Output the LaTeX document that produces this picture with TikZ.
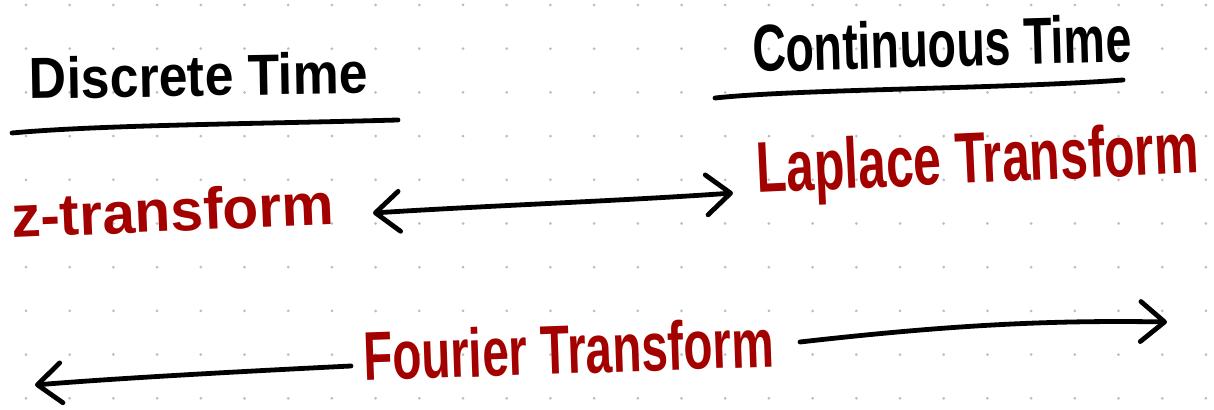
\documentclass[tikz,border=0pt]{standalone}
\usepackage{fontspec}
\setmainfont{Liberation Sans}
\usetikzlibrary{arrows.meta}
\definecolor{inkred}{HTML}{A30000}
\definecolor{dotgray}{HTML}{BDBDBD}
\newcommand{\fitto}[3]{\resizebox{#1}{#2}{\bfseries #3}}
\begin{document}
\begin{tikzpicture}[x=0.5pt,y=-0.5pt,
  >={Straight Barb[length=12pt,width=20pt,line cap=round,line join=round]},
  ink/.style={line width=2.4pt, line cap=round, line join=round, draw=black},
  head/.style={inner sep=0pt, outer sep=0pt, text=black, anchor=base west},
  redtext/.style={inner sep=0pt, outer sep=0pt, text=inkred, anchor=base west}]
\useasboundingbox[fill=white] (0,0) rectangle (1214,410);
% dotted grid
\foreach \i in {0,...,27}{
  \foreach \j in {0,...,9}{
    \fill[dotgray] ({26+43.7*\i},{5+43.7*\j}) circle (0.75pt);
  }
}
% headings
\node[head, rotate=1] (dt) at (30,99) {\fitto{169pt}{21pt}{Discrete Time}};
\node[head, rotate=1.6] (ct) at (753,72) {\fitto{189.5pt}{24pt}{Continuous Time}};
% underlines
\coordinate (du1) at (12,133);
\coordinate (du2) at (398,120);
\coordinate (cu1) at (715,98);
\coordinate (cu2) at (1123,80);
\draw[ink] (du1) .. controls (100,125) and (250,124) .. (du2);
\draw[ink] (cu1) .. controls (800,89) and (1000,89) .. (cu2);
% red labels
\node[redtext, rotate=2.4] (zt) at (12,238) {\fitto{161.5pt}{!}{z-transform}};
\node[redtext, rotate=2.6] (lt) at (757,193) {\fitto{221.5pt}{26pt}{Laplace Transform}};
\node[redtext, rotate=2] (ft) at (364,381) {\fitto{205.5pt}{25pt}{Fourier Transform}};
% double arrow
\coordinate (za) at (373,213);
\coordinate (la) at (733,193);
\draw[ink, <->] (za) .. controls (500,205) and (620,201) .. (la);
% Fourier arrows
\coordinate (fl1) at (351,366);
\coordinate (fl2) at (35,385);
\coordinate (fr1) at (800,342);
\coordinate (fr2) at (1167,322);
\draw[ink, ->] (fl1) .. controls (250,371) and (120,378) .. (fl2);
\draw[ink, ->] (fr1) .. controls (950,325) and (1050,320) .. (fr2);
\end{tikzpicture}
\end{document}
